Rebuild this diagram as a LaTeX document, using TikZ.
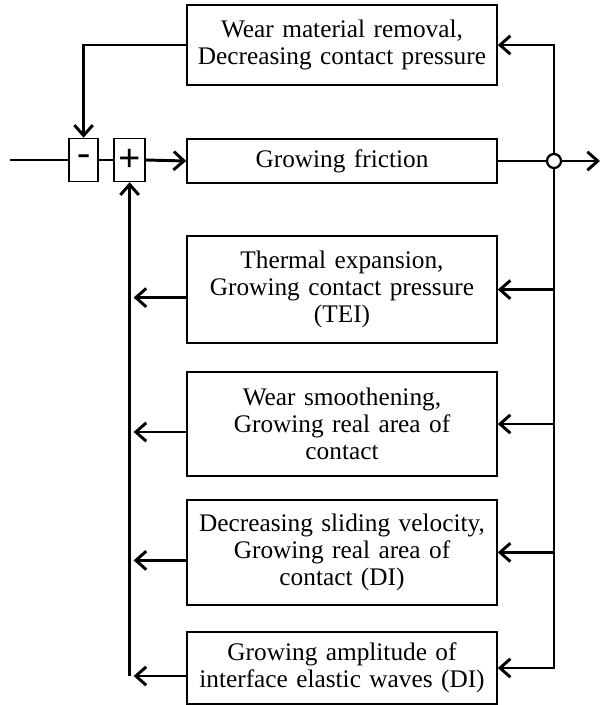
\documentclass[tikz,border=0pt]{standalone}
\usepackage{fontspec}
\setmainfont{Liberation Serif}
\usetikzlibrary{arrows.meta,positioning,calc}

\begin{document}
\begin{tikzpicture}[
  blk/.style={draw,line width=1.1pt,text width=7.6cm,align=center,minimum width=7.75cm,
    inner sep=1pt,font=\fontsize{18}{19.2}\selectfont},
  sumbox/.style={draw,line width=1.1pt,minimum height=1.075cm,inner sep=0pt,
    font=\fontsize{28}{28}\selectfont},
  ln/.style={line width=2.1pt},
  sig/.style={ln,-{Straight Barb[length=2.6mm,width=4.6mm,line width=2.1pt]}}
]
  \useasboundingbox (0,0) rectangle (15.05,-17.625);
  % blocks
  \node[blk,minimum height=2cm] (wear) at (8.55,-1.125) {Wear material removal,\\Decreasing contact pressure};
  \node[blk,minimum height=1.1cm] (fric) at (8.55,-4.025) {Growing friction};
  \node[blk,minimum height=2.675cm] (tei) at (8.55,-7.24) {Thermal expansion,\\Growing contact pressure\\(TEI)};
  \node[blk,minimum height=2.6cm] (smooth) at (8.55,-10.6) {Wear smoothening,\\Growing real area of\\contact};
  \node[blk,minimum height=2.625cm] (slide) at (8.55,-13.81) {Decreasing sliding velocity,\\Growing real area of\\contact (DI)};
  \node[blk,minimum height=1.8cm] (amp) at (8.55,-16.7) {Growing amplitude of\\interface elastic waves (DI)};
  % summing boxes
  \node[sumbox,minimum width=0.725cm] (minus) at (2.09,-4.0) {\raisebox{-0.6ex}{-}};
  \node[sumbox,minimum width=0.775cm] (plus) at (3.24,-4.0) {\textbf{+}};
  \node[circle,draw,line width=1.6pt,fill=white,minimum size=0.35cm,inner sep=0pt] (jn) at (13.85,-4.025) {};
  \coordinate (in) at (0.25,-4.0);
  \coordinate (out) at (15.0,-4.025);
  % forward path
  \draw[ln] (in) -- (minus.west);
  \draw[ln] (minus.east) -- (plus.west);
  \draw[sig] (plus.east) -- (fric.west);
  \draw[ln] (fric.east) -- (jn.west);
  \draw[sig] (jn.east) -- (out);
  % feedback
  \draw[sig] (jn.north) |- (wear.east);
  \draw[sig] (wear.west) -| (minus.north);
  \draw[sig] (jn.south) |- (amp.east);
  \foreach \b in {tei,smooth,slide}{
    \draw[sig] (jn.south |- \b.east) -- (\b.east);
  }
  \foreach \b in {tei,smooth,slide,amp}{
    \coordinate (\b-in) at ([yshift=-0.2cm]\b.west);
    \draw[sig] (\b-in) -- ([xshift=0.1cm]plus.south |- \b-in);
  }
  \draw[sig] (plus.south |- amp-in) -- (plus.south);
\end{tikzpicture}
\end{document}
